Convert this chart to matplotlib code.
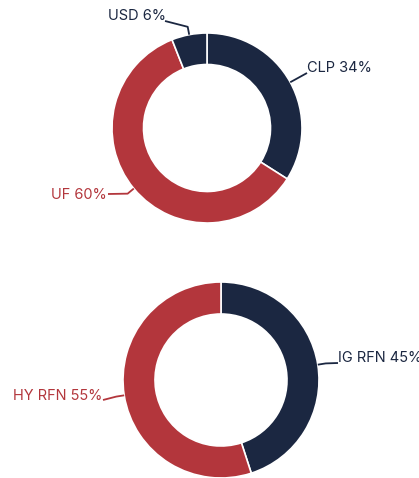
import numpy as np
import matplotlib
matplotlib.use("Agg")
import matplotlib.pyplot as plt

W, H = 419, 478
NAVY = "#1b2741"
RED = "#b3363c"

# currency split (top donut)
top_labels = ["CLP", "UF", "USD"]
top_values = [34, 60, 6]
top_colors = [NAVY, RED, NAVY]

# rating split (bottom donut)
bottom_labels = ["IG RFN", "HY RFN"]
bottom_values = [45, 55]
bottom_colors = [NAVY, RED]

plt.rcParams['font.family'] = ['Inter', 'DejaVu Sans']

fig = plt.figure(figsize=(W / 100, H / 100), dpi=100)
ax = fig.add_axes([0, 0, 1, 1])


def donut(labels, values, colors, center, radius, width, label_pos):
    """Draw one donut in pixel coordinates (y measured from the top)."""
    cx, cy = center[0], H - center[1]
    wedges, _ = ax.pie(values, colors=colors, startangle=90, counterclock=False,
                       radius=radius, center=(cx, cy),
                       wedgeprops=dict(width=width, edgecolor="white", linewidth=1.2))
    for w, lab, val, col, (end, txt, ha) in zip(wedges, labels, values, colors, label_pos):
        ang = np.deg2rad((w.theta1 + w.theta2) / 2)
        ax0 = cx + radius * np.cos(ang)
        ay0 = cy + radius * np.sin(ang)
        ex = ax0 + 8 * np.cos(ang)
        ey = ay0 + 8 * np.sin(ang)
        ax.plot([ax0, ex, end[0]], [ay0, ey, H - end[1]], color=col, lw=1.3,
                solid_capstyle="butt")
        ax.text(txt[0], H - txt[1], f"{lab} {val}%", color=col, fontsize=10.5,
                ha=ha, va="center")


donut(top_labels, top_values, top_colors, (207, 128), 95, 31.5,
      [((307, 73), (307, 68), "left"),
       ((108, 194), (107, 195), "right"),
       ((165, 21), (166, 16), "right")])

donut(bottom_labels, bottom_values, bottom_colors, (221, 380), 98, 32,
      [((338, 363), (338, 357.5), "left"),
       ((103, 400), (102, 396), "right")])

ax.set_xlim(0, W)
ax.set_ylim(0, H)
ax.set_aspect("equal")
ax.axis("off")

fig.savefig("out.png", dpi=100)
